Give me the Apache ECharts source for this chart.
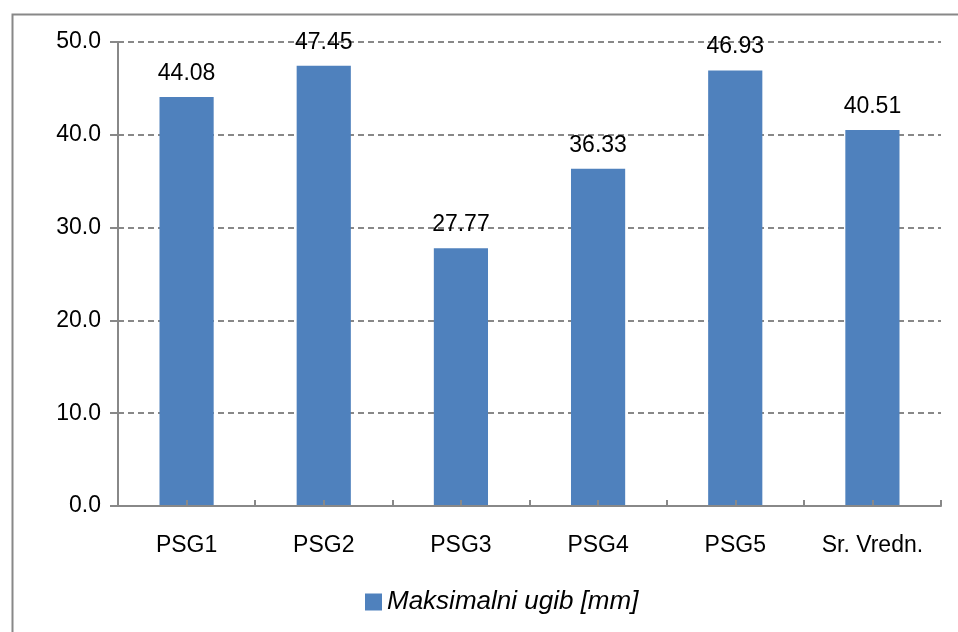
<!DOCTYPE html>
<html>
<head>
<meta charset="utf-8">
<script src="https://cdn.jsdelivr.net/npm/echarts@6/dist/echarts.min.js"></script>
<style>
html,body{margin:0;padding:0;background:#fff;}
#c{width:958px;height:632px;}
</style>
</head>
<body>
<div id="c"></div>
<script>
var categories = ['PSG1', 'PSG2', 'PSG3', 'PSG4', 'PSG5', 'Sr. Vredn.'];
var values = [44.08, 47.45, 27.77, 36.33, 46.93, 40.51];
var seriesName = 'Maksimalni ugib [mm]';
var yMin = 0, yMax = 50, yStep = 10;

var chart = echarts.init(document.getElementById('c'), null, {renderer: 'canvas'});
var font = '"Liberation Sans", Arial, sans-serif';
var axisGrey = '#888888';
chart.setOption({
  animation: false,
  backgroundColor: '#ffffff',
  graphic: [{
    type: 'rect', left: 10, top: 12, silent: true, z: -1,
    shape: {width: 1000, height: 700},
    style: {fill: 'none', stroke: axisGrey, lineWidth: 2}
  }],
  grid: {left: 118, right: 17, top: 42, bottom: 126, containLabel: false},
  legend: {
    show: true, left: 360, top: 584, itemWidth: 17, itemHeight: 17, itemGap: 8,
    icon: 'rect',
    textStyle: {fontFamily: font, fontSize: 26, fontStyle: 'italic', color: '#000'},
    data: [seriesName]
  },
  xAxis: [{
    type: 'category', data: categories, z: 10,
    axisLine: {lineStyle: {color: axisGrey, width: 2}},
    axisTick: {show: true, inside: true, length: 6, alignWithLabel: false, lineStyle: {color: axisGrey, width: 2}},
    axisLabel: {fontFamily: font, fontSize: 23, color: '#000', margin: 28, interval: 0},
    splitLine: {show: false}
  }, {
    type: 'category', data: categories, position: 'bottom', z: 10,
    axisLine: {show: true, onZero: false, lineStyle: {color: axisGrey, width: 2, opacity: 0}},
    axisTick: {show: true, inside: true, length: 6, alignWithLabel: true, lineStyle: {color: axisGrey, width: 2}},
    axisLabel: {show: false},
    splitLine: {show: false}
  }],
  yAxis: {
    type: 'value', min: yMin, max: yMax, interval: yStep,
    axisLine: {show: true, lineStyle: {color: axisGrey, width: 2}},
    axisTick: {show: true, length: 8, lineStyle: {color: axisGrey, width: 2}},
    axisLabel: {fontFamily: font, fontSize: 23, color: '#000', margin: 17,
      formatter: function (v) { return v.toFixed(1); }},
    splitLine: {show: true, lineStyle: {color: axisGrey, width: 2, type: [6, 4]}}
  },
  series: [{
    name: seriesName, type: 'bar', data: values, barWidth: '39.5%',
    itemStyle: {color: '#4F81BD'},
    label: {show: true, position: 'top', distance: 12, fontFamily: font, fontSize: 23, color: '#000',
      formatter: function (p) { return p.value.toFixed(2); }}
  }, {
    name: 'ticks', type: 'line', xAxisIndex: 1, showSymbol: false, silent: true,
    data: categories.map(function () { return null; }),
    lineStyle: {opacity: 0}
  }]
});
</script>
</body>
</html>
